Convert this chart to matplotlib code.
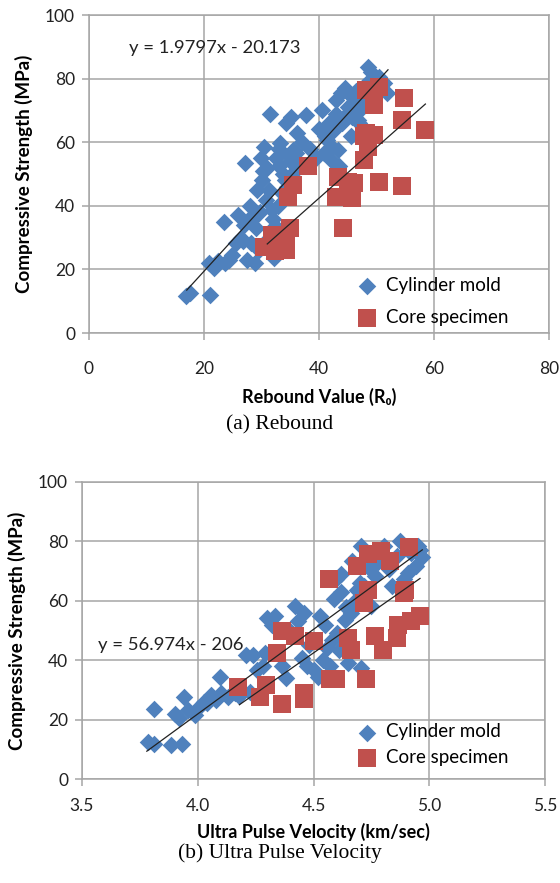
import matplotlib.pyplot as plt
import numpy as np

plt.rcParams['font.family'] = ['Lato', 'DejaVu Sans']

# (a) rebound hammer data
reb_cyl_x = [16.9, 17.5, 21.1, 20.8, 21.8, 23.4, 23.7, 24.3, 25.6, 25.9, 27.1, 27.4, 28.1,
             28.4, 28.8, 29.3, 29.9, 30.5, 31.5, 30.8, 31.8, 32.1, 32.4, 33.0, 33.3, 34.3,
             35.2, 35.5, 36.1, 37.7, 35.5, 40.5, 40.8, 41.4, 42.0, 42.3, 43.3, 43.0, 43.9,
             44.5, 45.4, 45.7, 46.7, 47.2, 47.6, 48.5, 49.1, 51.9, 51.3, 50.4,
             26.5, 27.8, 29.0, 30.0, 31.0, 32.5, 33.8, 34.8, 29.5, 30.8, 32.0, 33.5, 34.0,
             28.0, 26.8, 30.2, 31.3, 33.0, 35.0, 36.5, 41.0, 42.5, 44.0, 45.0, 46.0, 47.0,
             43.5, 44.8, 46.2, 48.0, 49.5, 22.5, 24.8, 27.0, 29.8, 31.0, 32.8, 34.5, 36.0,
             40.0, 41.8, 43.0, 45.5, 46.5, 48.8, 50.0, 37.0, 38.5, 39.5]
reb_cyl_y = [11.5, 12.6, 11.8, 22.0, 20.4, 34.8, 22.0, 23.0, 28.3, 37.2, 53.6, 23.0, 28.3,
             35.6, 22.0, 45.0, 55.0, 58.6, 68.9, 41.9, 38.7, 23.6, 33.5, 52.4, 59.7, 66.0,
             68.0, 57.6, 62.8, 68.6, 50.3, 70.2, 56.5, 60.7, 54.5, 58.6, 57.6, 73.3, 75.4,
             77.0, 74.9, 68.0, 67.0, 70.2, 77.5, 83.8, 82.2, 75.4, 78.5, 80.6,
             30.0, 36.0, 33.0, 48.0, 52.0, 55.0, 50.0, 56.0, 26.0, 29.0, 36.0, 44.0, 48.0,
             40.0, 29.0, 51.0, 45.0, 58.0, 54.0, 53.0, 62.0, 63.5, 66.0, 71.0, 72.0, 66.0,
             52.5, 69.0, 75.0, 73.0, 79.0, 22.5, 24.5, 34.0, 38.0, 27.0, 40.0, 46.0, 56.5,
             64.0, 66.0, 69.0, 62.0, 76.0, 79.5, 76.5, 60.0, 58.0, 55.0]
reb_core_x = [30.5, 31.8, 32.4, 34.3, 34.3, 34.9, 34.6, 35.5, 38.1, 43.3, 42.9, 44.2, 45.1,
              46.1, 45.8, 47.9, 47.9, 48.2, 49.5, 48.5, 49.5, 48.2, 50.4, 50.4, 54.8, 54.4,
              54.4, 58.5]
reb_core_y = [27.2, 30.9, 25.7, 26.2, 28.8, 33.0, 42.9, 46.6, 52.4, 49.2, 42.9, 33.0, 47.6,
              47.1, 42.4, 54.5, 61.8, 62.8, 62.3, 58.6, 71.7, 76.4, 77.5, 47.6, 73.8, 67.0,
              46.1, 63.9]

# (b) ultrasonic pulse velocity data
upv_cyl_x = [3.786, 3.81, 3.886, 3.932, 3.81, 3.90, 3.94, 3.96, 3.99, 4.025, 4.056, 4.08,
             4.095, 4.13, 4.16, 4.21, 4.24, 4.226, 4.257, 4.29, 4.30, 4.334, 4.32, 4.365,
             4.38, 4.42, 4.435, 4.457, 4.45, 4.47, 4.50, 4.52, 4.527, 4.55, 4.58, 4.57,
             4.59, 4.597, 4.62, 4.61, 4.65, 4.635, 4.66, 4.666, 4.705, 4.705, 4.69, 4.72,
             4.75, 4.766, 4.805, 4.828, 4.84, 4.875, 4.91, 4.95, 4.967, 4.944, 4.89,
             3.92, 4.00, 4.04, 4.10, 4.18, 4.28, 4.40, 4.48, 4.54, 4.62, 4.64, 4.68, 4.74,
             4.78, 4.86, 4.92, 4.60, 4.56, 4.70, 4.82, 4.96]
upv_cyl_y = [12.4, 11.9, 11.3, 11.9, 23.7, 22.0, 27.7, 23.2, 21.5, 26.0, 28.2, 26.6,
             34.2, 27.7, 28.8, 41.8, 41.8, 29.4, 36.7, 42.4, 54.2, 54.8, 52.0, 37.9,
             33.9, 58.2, 53.1, 55.9, 40.7, 37.9, 36.7, 34.5, 54.8, 52.0, 46.9, 37.9,
             60.5, 67.2, 68.9, 43.5, 39.0, 53.7, 55.9, 73.4, 78.5, 37.3, 63.8, 65.0,
             58.2, 68.4, 78.5, 70.6, 65.0, 80.2, 69.5, 78.5, 74.6, 71.8, 67.2,
             20.5, 24.0, 25.5, 29.0, 28.0, 38.0, 50.0, 45.0, 40.0, 63.0, 58.0, 60.0, 71.0,
             73.0, 75.0, 76.0, 49.0, 44.0, 66.0, 72.0, 77.0]
upv_core_x = [4.172, 4.27, 4.295, 4.365, 4.342, 4.365, 4.42, 4.457, 4.457, 4.50, 4.566,
              4.57, 4.597, 4.65, 4.66, 4.69, 4.735, 4.79, 4.83, 4.735, 4.72, 4.728, 4.766,
              4.80, 4.86, 4.866, 4.92, 4.96, 4.89, 4.897, 4.913]
upv_core_y = [31.1, 27.7, 31.6, 25.4, 42.4, 49.7, 48.0, 27.1, 28.8, 46.3, 67.2, 33.6,
              33.6, 47.5, 43.5, 71.8, 75.7, 76.8, 73.4, 63.8, 59.3, 33.6, 48.0, 43.5,
              47.5, 52.0, 53.1, 54.8, 62.7, 63.8, 78.0]

BLUE = '#4F81BD'
RED = '#C0504D'
GRID = '#A6A6A6'
TXT = '#222222'


def style_axes(ax, xticks, xlabels, xpad):
    ax.set_ylim(0, 100)
    ax.set_xlim(xticks[0], xticks[-1])
    ax.set_xticks(xticks)
    ax.set_xticklabels(xlabels)
    ax.set_yticks([0, 20, 40, 60, 80, 100])
    ax.grid(True, color=GRID, linewidth=1.1)
    ax.set_axisbelow(True)
    for s in ax.spines.values():
        s.set_color(GRID)
        s.set_linewidth(1.1)
    ax.tick_params(colors=GRID, labelcolor=TXT, labelsize=12.5, length=5, width=1.1)
    ax.tick_params(axis='x', pad=xpad)
    ax.tick_params(axis='y', pad=5)


def draw_panel(ax, cx, cy, kx, ky, cfit, kfit):
    ax.scatter(cx, cy, marker='D', s=80, color=BLUE, linewidths=0, label='Cylinder mold', zorder=3)
    ax.scatter(kx, ky, marker='s', s=155, color=RED, linewidths=0, label='Core specimen', zorder=3)
    # linear trend lines
    for (m, c), (x0, x1) in [cfit, kfit]:
        xx = np.array([x0, x1])
        ax.plot(xx, m * xx + c, color=TXT, linewidth=0.9, zorder=4)


fig = plt.figure(figsize=(5.6, 8.83), dpi=100)
ax1 = fig.add_axes([89 / 560, 1 - 333 / 883, 460 / 560, 318 / 883])
ax2 = fig.add_axes([82 / 560, 1 - 779 / 883, 463 / 560, 297 / 883])

draw_panel(ax1, reb_cyl_x, reb_cyl_y, reb_core_x, reb_core_y,
           ((1.9797, -20.173), (17, 52)), ((1.6, -21.6), (31, 58.5)))
style_axes(ax1, [0, 20, 40, 60, 80], ['0', '20', '40', '60', '80'], 15)
ax1.set_xlabel('Rebound Value (R\u2080)', fontsize=13, fontweight='bold', labelpad=8)
ax1.set_ylabel('Compressive Strength (MPa)', fontsize=13.5, fontweight='bold', labelpad=9)
ax1.text(7, 88, 'y = 1.9797x - 20.173', fontsize=13.3, color=TXT)
ax1.legend(loc='lower right', bbox_to_anchor=(0.94, -0.02), frameon=False, fontsize=13.5,
           handletextpad=0.0, labelspacing=0.8, borderaxespad=0.3)

draw_panel(ax2, upv_cyl_x, upv_cyl_y, upv_core_x, upv_core_y,
           ((56.974, -206.0), (3.78, 4.97)), ((54.5, -202.8), (4.18, 4.96)))
style_axes(ax2, [3.5, 4.0, 4.5, 5.0, 5.5], ['3.5', '4.0', '4.5', '5.0', '5.5'], 9)
ax2.set_xlabel('Ultra Pulse Velocity (km/sec)', fontsize=13, fontweight='bold', labelpad=6)
ax2.set_ylabel('Compressive Strength (MPa)', fontsize=13.5, fontweight='bold', labelpad=9)
ax2.text(3.57, 43.5, 'y = 56.974x - 206', fontsize=13.3, color=TXT)
ax2.legend(loc='lower right', bbox_to_anchor=(0.95, 0.0), frameon=False, fontsize=13.5,
           handletextpad=0.0, labelspacing=0.45, borderaxespad=0.3)

fig.text(0.5, 1 - 425 / 883, '(a) Rebound', ha='center', va='center',
         family='Liberation Serif', fontsize=15.5)
fig.text(0.5, 1 - 853 / 883, '(b) Ultra Pulse Velocity', ha='center', va='center',
         family='Liberation Serif', fontsize=15.5)

fig.savefig('out.png', dpi=100)
